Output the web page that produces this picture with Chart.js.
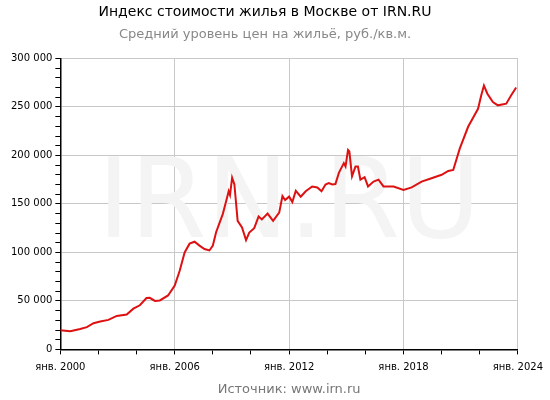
<!DOCTYPE html>
<html><head><meta charset="utf-8">
<script src="https://cdn.jsdelivr.net/npm/chart.js@4"></script>
<style>body{margin:0;background:#fff}#w{width:550px;height:400px}</style>
</head><body><div id="w"><canvas id="c"></canvas></div>
<script>
const years=[2000.0,2000.52,2001.04,2001.39,2001.74,2002.09,2002.52,2002.96,2003.48,2003.83,2004.17,2004.52,2004.69,2004.96,2005.22,2005.65,2006.0,2006.26,2006.52,2006.78,2007.04,2007.30,2007.56,2007.82,2008.0,2008.17,2008.52,2008.70,2008.83,2008.90,2009.01,2009.13,2009.30,2009.53,2009.74,2009.91,2010.17,2010.40,2010.57,2010.87,2011.16,2011.48,2011.65,2011.79,2012.0,2012.17,2012.35,2012.61,2012.87,2013.21,2013.48,2013.70,2013.91,2014.08,2014.26,2014.43,2014.61,2014.87,2014.96,2015.09,2015.16,2015.30,2015.48,2015.61,2015.74,2015.96,2016.14,2016.43,2016.69,2016.95,2017.48,2018.0,2018.43,2018.95,2019.47,2020.0,2020.35,2020.61,2020.95,2021.39,2021.91,2022.08,2022.22,2022.40,2022.69,2022.95,2023.39,2023.65,2023.91];
const prices=[19.8,18.8,21,23,27,28.7,30.4,34.5,36,42,45.5,53,53.2,50,50.5,55.6,65.8,81,100,109,111,107,103.5,102,107,120.8,139.5,153,163,159,177,170,132.5,125.7,112.7,120.5,125,137,134,140,132.5,141,158,154,157.5,152,163.5,157.5,163,168,167,163,170,171.5,170,170.5,182,192,188.5,205.6,204,178.5,188.5,188.5,175,177.5,168,173,175,168,168,164.5,167,173,176.5,180,184,185,207,229.5,248,262,272,263.6,255,251.6,253.3,262,270].map(v=>v*1000);
const xTickYears=[2000,2006,2012,2018,2024];
const wm={id:'wm',beforeDatasetsDraw(ch){const a=ch.chartArea,x=ch.ctx;x.save();x.fillStyle='#f4f4f4';x.font='110px "DejaVu Sans"';x.textAlign='center';x.textBaseline='middle';x.fillText('IRN.RU',(a.left+a.right)/2,(a.top+a.bottom)/2+5);x.restore();}};
new Chart(document.getElementById('c'),{type:'line',
data:{datasets:[{data:years.map((y,i)=>({x:y,y:prices[i]})),borderColor:'#dd1111',borderWidth:2,pointRadius:0,tension:0}]},
plugins:[wm],
options:{responsive:true,maintainAspectRatio:false,animation:false,
layout:{padding:{left:8,right:28,top:0,bottom:3}},
plugins:{legend:{display:false},tooltip:{enabled:false},
title:{display:true,text:'Индекс стоимости жилья в Москве от IRN.RU',color:'#000',font:{family:'DejaVu Sans',size:14,weight:'normal'},padding:{top:4,bottom:6}},
subtitle:{display:true,text:'Средний уровень цен на жильё, руб./кв.м.',color:'#888',font:{family:'DejaVu Sans',size:13},padding:{bottom:16}}},
scales:{
x:{type:'linear',min:2000,max:2024,
ticks:{stepSize:2,autoSkip:false,maxRotation:0,color:'#000',padding:7,font:{family:'DejaVu Sans',size:10},callback:v=>xTickYears.includes(v)?'янв. '+v:''},
grid:{color:c=>xTickYears.includes(c.tick&&c.tick.value)?'#c8c8c8':'rgba(0,0,0,0)',tickColor:'#000',tickLength:5,drawTicks:true},
border:{color:'#000',width:1.5},
title:{display:true,text:'Источник: www.irn.ru',color:'#777',font:{family:'DejaVu Sans',size:13},padding:{top:1,bottom:0}}},
y:{min:0,max:300000,
ticks:{stepSize:10000,autoSkip:false,color:'#000',font:{family:'DejaVu Sans',size:10},callback:v=>v%50000===0?(v===0?'0':(v/1000)+' 000'):''},
grid:{color:c=>(c.tick&&c.tick.value%50000===0)?'#c8c8c8':'rgba(0,0,0,0)',tickColor:'#000',tickLength:5},
border:{color:'#000',width:1.5}}}}});
</script></body></html>
